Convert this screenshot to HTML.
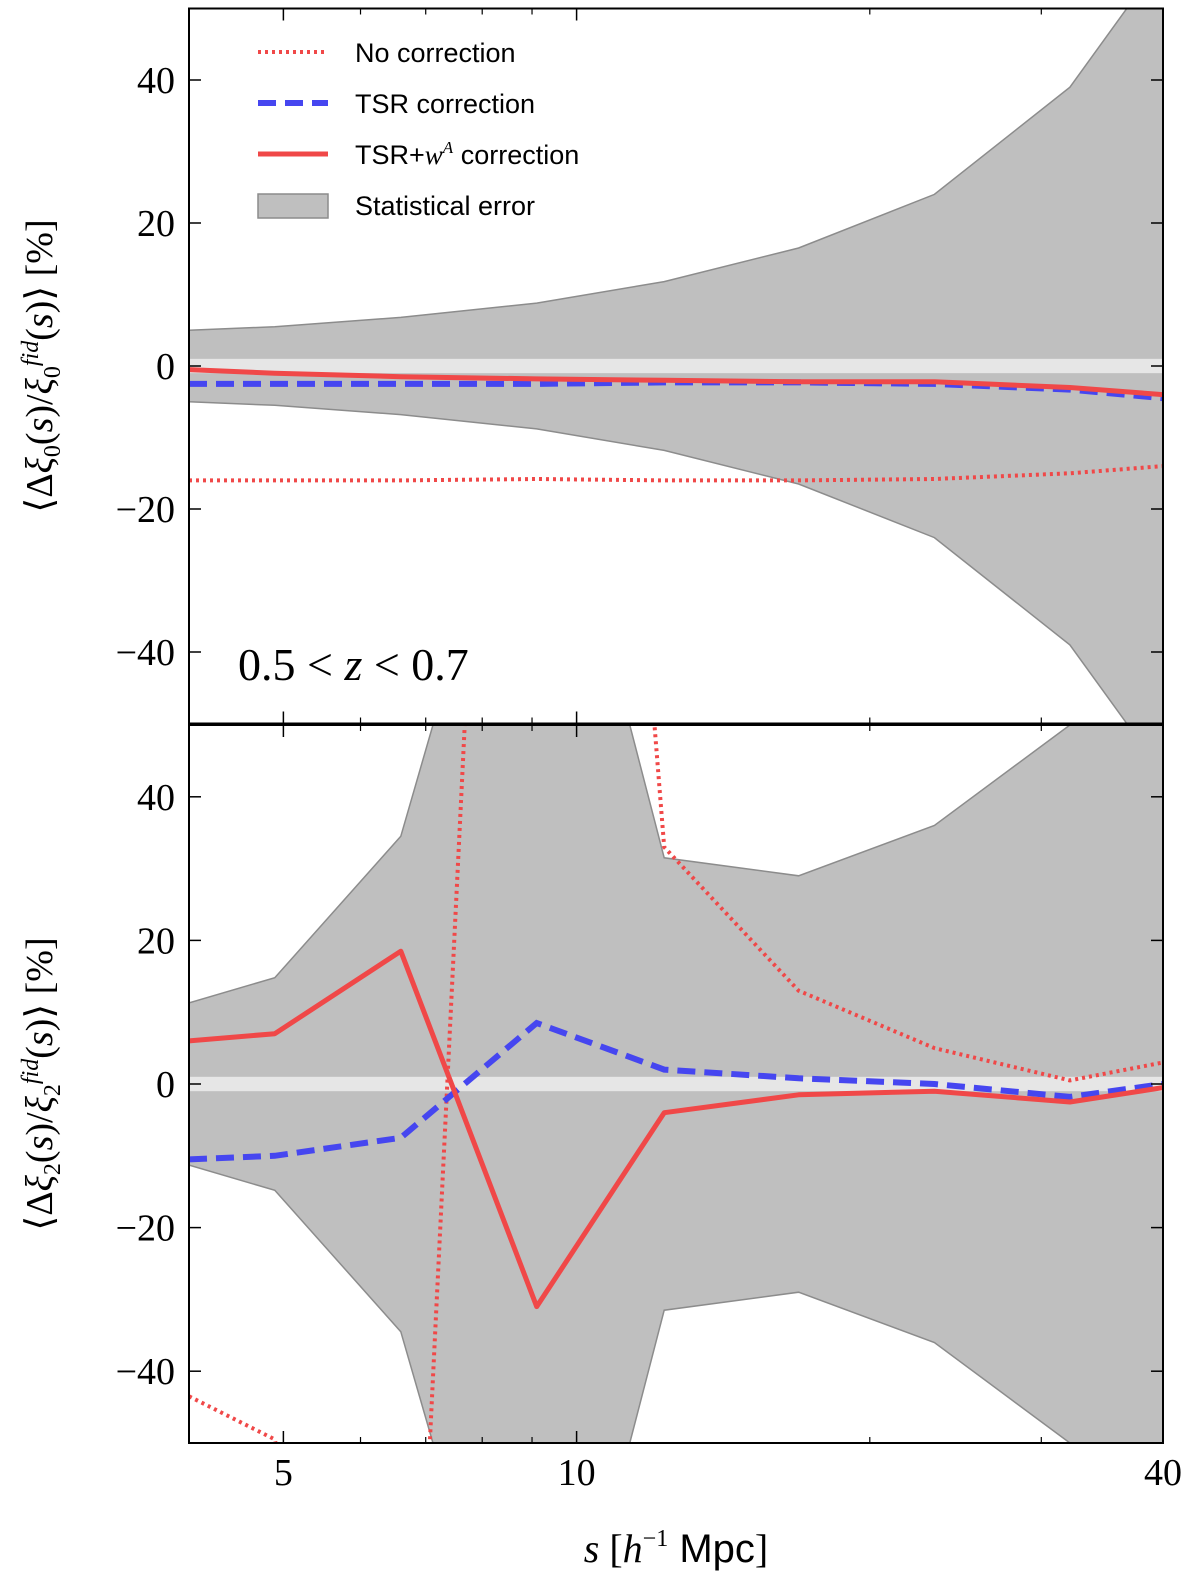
<!DOCTYPE html>
<html><head><meta charset="utf-8"><style>
html,body{margin:0;padding:0;background:#fff;overflow:hidden;width:1200px;height:1585px;max-height:1585px}
#wrap{position:absolute;left:0;top:0;width:1200px;height:1585px;overflow:hidden}
svg{display:block;position:absolute;left:0;top:0}
.serif{font-family:"Liberation Serif",serif}
.sans{font-family:"Liberation Sans",sans-serif}
</style></head><body>
<div id="wrap">
<svg id="chart" width="1200" height="1585" viewBox="0 0 1200 1585" overflow="hidden">
<defs>
<clipPath id="c1"><rect x="189" y="8.5" width="974" height="715"/></clipPath>
<clipPath id="c2"><rect x="189" y="725" width="974" height="718"/></clipPath>
</defs>
<g id="g"></g>
<g class="sans" font-size="27">
 <line x1="258" y1="52" x2="328" y2="52" stroke="#f04848" stroke-width="4" stroke-dasharray="3,4"/>
 <text x="355" y="62" class="sans">No correction</text>
 <line x1="258" y1="103" x2="328" y2="103" stroke="#4646f0" stroke-width="6" stroke-dasharray="18,9"/>
 <text x="355" y="113" class="sans">TSR correction</text>
 <line x1="258" y1="154" x2="328" y2="154" stroke="#f04848" stroke-width="5"/>
 <text x="355" y="164" class="sans">TSR+<tspan class="serif" font-style="italic">w</tspan><tspan font-size="17" dy="-11" font-style="italic" class="serif">A</tspan><tspan dy="11"> correction</tspan></text>
 <rect x="258" y="194" width="70" height="24" fill="#bfbfbf" stroke="#8c8c8c" stroke-width="1.5"/>
 <text x="355" y="215" class="sans">Statistical error</text>
</g>
<text x="238" y="680" font-size="46" class="serif">0.5 &lt; <tspan font-style="italic">z</tspan> &lt; 0.7</text>
<text transform="translate(52,366) rotate(-90)" text-anchor="middle" font-size="38" class="serif">⟨Δ<tspan font-style="italic">ξ</tspan><tspan font-size="24" dy="8">0</tspan><tspan dy="-8">(<tspan font-style="italic">s</tspan>)/<tspan font-style="italic">ξ</tspan></tspan><tspan font-size="24" dy="8">0</tspan><tspan font-size="24" dy="-22" font-style="italic">fid</tspan><tspan dy="14">(<tspan font-style="italic">s</tspan>)⟩   [%]</tspan></text>
<text transform="translate(52,1084) rotate(-90)" text-anchor="middle" font-size="38" class="serif">⟨Δ<tspan font-style="italic">ξ</tspan><tspan font-size="24" dy="8">2</tspan><tspan dy="-8">(<tspan font-style="italic">s</tspan>)/<tspan font-style="italic">ξ</tspan></tspan><tspan font-size="24" dy="8">2</tspan><tspan font-size="24" dy="-22" font-style="italic">fid</tspan><tspan dy="14">(<tspan font-style="italic">s</tspan>)⟩   [%]</tspan></text>
<text x="676" y="1562" text-anchor="middle" font-size="40" class="serif"><tspan font-style="italic">s</tspan> [<tspan font-style="italic">h</tspan><tspan font-size="24" dy="-16">−1</tspan><tspan dy="16" class="sans"> Mpc</tspan>]</text>
</svg>
</div>
<script>
const sVals=[4,4.9,6.6,9.1,12.3,16.9,23.3,32.1,40];
const topErr=[5,5.5,6.8,8.8,11.8,16.5,24,39,57];
const topNoCorr=[-16,-16,-16,-15.8,-16,-16,-15.8,-15,-14];
const topTSR=[-2.5,-2.5,-2.5,-2.5,-2.3,-2.3,-2.5,-3.3,-4.5];
const topTSRw=[-0.5,-1,-1.5,-1.8,-2,-2.2,-2.2,-3,-4];
const botErrUp=[11.3,14.8,34.5,100,31.5,29,36,50,60];
const botErrLo=[-11.3,-14.8,-34.5,-100,-31.5,-29,-36,-50,-60];
const botNoCorr=[-43.5,-49.5,-133,256,33,13,5,0.5,3];
const botTSR=[-10.5,-10,-7.5,8.5,2,0.8,0,-1.8,0];
const botTSRw=[6,7,18.5,-31,-4,-1.5,-1,-2.5,-0.5];
const yTicks=[-40,-20,0,20,40];
const xMajor=[5,10,40];
const xMinor=[6,7,8,9,20,30];

const NS="http://www.w3.org/2000/svg";
const g=document.getElementById('g');
function el(t,a,p){const e=document.createElementNS(NS,t);for(const k in a)e.setAttribute(k,a[k]);(p||g).appendChild(e);return e;}
const X0=189,X1=1163;
const xs=v=>X0+(Math.log10(v)-Math.log10(4))/(Math.log10(40)-Math.log10(4))*(X1-X0);
const panels=[
 {top:8.5,bot:723.5,clip:'c1',name:'monopole'},
 {top:725,bot:1443,clip:'c2',name:'quadrupole'}];
panels.forEach(p=>{p.ys=v=>p.top+(50-v)/100*(p.bot-p.top);});
function pts(xv,yv,ys){return xv.map((x,i)=>xs(x).toFixed(1)+','+ys(yv[i]).toFixed(1)).join(' ');}

function drawPanel(p,up,lo,nc,tsr,tsrw){
 const grp=el('g',{'clip-path':'url(#'+p.clip+')'});
 
 
 const band=el('polygon',{points:pts(sVals,up,p.ys)+' '+pts(sVals.slice().reverse(),lo.slice().reverse(),p.ys),fill:'#bfbfbf',stroke:'#8c8c8c','stroke-width':1.5},grp);
 
 
 const zb=el('rect',{x:X0,y:p.ys(1),width:X1-X0,height:p.ys(-1)-p.ys(1),fill:'#e6e6e6'},grp);
 
 
 const l1=el('polyline',{points:pts(sVals,nc,p.ys),fill:'none',stroke:'#f04848','stroke-width':4,'stroke-dasharray':'3,4'},grp);
 
 
 const l2=el('polyline',{points:pts(sVals,tsr,p.ys),fill:'none',stroke:'#4646f0','stroke-width':6,'stroke-dasharray':'18,9'},grp);
 
 
 const l3=el('polyline',{points:pts(sVals,tsrw,p.ys),fill:'none',stroke:'#f04848','stroke-width':5,'stroke-linejoin':'round'},grp);
 
 
 const fr=el('rect',{x:X0,y:p.top,width:X1-X0,height:p.bot-p.top,fill:'none',stroke:'#000','stroke-width':2});
 
 
 yTicks.forEach(v=>{
  const y=p.ys(v);
  el('line',{x1:X0,x2:X0+12,y1:y,y2:y,stroke:'#000','stroke-width':1.5});
  el('line',{x1:X1-12,x2:X1,y1:y,y2:y,stroke:'#000','stroke-width':1.5});
  const t=el('text',{x:X0-14,y:y+13,'text-anchor':'end','font-size':38,'class':'serif'});
  t.textContent=(v<0?'\u2212':'')+Math.abs(v);
  
  
 });
 xMajor.forEach(v=>{const x=xs(v);
  el('line',{x1:x,x2:x,y1:p.bot,y2:p.bot-12,stroke:'#000','stroke-width':1.5});
  el('line',{x1:x,x2:x,y1:p.top,y2:p.top+12,stroke:'#000','stroke-width':1.5});});
 xMinor.forEach(v=>{const x=xs(v);
  el('line',{x1:x,x2:x,y1:p.bot,y2:p.bot-6,stroke:'#000','stroke-width':1.2});
  el('line',{x1:x,x2:x,y1:p.top,y2:p.top+6,stroke:'#000','stroke-width':1.2});});
}
drawPanel(panels[0],topErr,topErr.map(v=>-v),topNoCorr,topTSR,topTSRw);
drawPanel(panels[1],botErrUp,botErrLo,botNoCorr,botTSR,botTSRw);

xMajor.forEach(v=>{const t=el('text',{x:xs(v),y:1485,'text-anchor':'middle','font-size':38,'class':'serif'});t.textContent=v;
 
 });
</script>
</body></html>
